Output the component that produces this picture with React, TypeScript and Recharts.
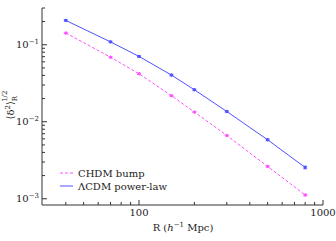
import React from "react";
import { LineChart, Line, XAxis, YAxis, ErrorBar } from "recharts";

const radii = [40, 70, 100, 150, 200, 300, 500, 800];
const lcdm = [0.207, 0.109, 0.0705, 0.0404, 0.026, 0.0136, 0.00583, 0.00255];
const lcdmErr = [0.005, 0.0025, 0.0015, 0.001, 0.0006, 0.0003, 0.00015, 0.0001];
const chdm = [0.142, 0.069, 0.042, 0.0218, 0.0134, 0.00664, 0.00263, 0.00112];
const chdmErr = [0.003, 0.0015, 0.0008, 0.0004, 0.0002, 0.0001, 0.00005, 0.00003];

const xTicks = [40, 50, 60, 70, 80, 90, 100, 200, 300, 400, 500, 600, 700, 800, 900, 1000];
const xMajor = [100, 1000];
const yTicks = [
  0.001, 0.002, 0.003, 0.004, 0.005, 0.006, 0.007, 0.008, 0.009,
  0.01, 0.02, 0.03, 0.04, 0.05, 0.06, 0.07, 0.08, 0.09,
  0.1, 0.2, 0.3,
];
const yMajor: Record<string, string> = { "0.001": "−3", "0.01": "−2", "0.1": "−1" };
const seriesNames = ["CHDM bump", "ΛCDM power-law"];

const data = radii.map((r, i) => ({
  r,
  lcdm: lcdm[i],
  lcdmErr: lcdmErr[i],
  chdm: chdm[i],
  chdmErr: chdmErr[i],
}));

const BLUE = "#5050ff";
const PINK = "#ff50ff";
const FONT = "'DejaVu Serif', serif";
const AX = "#333";

const XTickBottom = (props: any) => {
  const { x, y, payload } = props;
  const major = xMajor.includes(payload.value);
  const len = major ? 5 : 3;
  return (
    <g>
      <line x1={x} y1={y} x2={x} y2={y - len} stroke={AX} strokeWidth={1} />
      {major && (
        <text x={x} y={y + 11} textAnchor="middle" fontSize={10} fontFamily={FONT} fill="#222">
          {payload.value}
        </text>
      )}
    </g>
  );
};

const XTickTop = (props: any) => {
  const { x, y, payload } = props;
  const major = xMajor.includes(payload.value);
  const len = major ? 5 : 3;
  return <line x1={x} y1={y} x2={x} y2={y + len} stroke={AX} strokeWidth={1} />;
};

const YTickLeft = (props: any) => {
  const { x, y, payload } = props;
  const sup = yMajor[String(payload.value)];
  const len = sup ? 5 : 3;
  return (
    <g>
      <line x1={x} y1={y} x2={x + len} y2={y} stroke={AX} strokeWidth={1} />
      {sup && (
        <text x={x - 3} y={y + 3.5} textAnchor="end" fontSize={10} fontFamily={FONT} fill="#222">
          <tspan>10</tspan>
          <tspan dy={-4} fontSize={7}>{sup}</tspan>
        </text>
      )}
    </g>
  );
};

const YTickRight = (props: any) => {
  const { x, y, payload } = props;
  const sup = yMajor[String(payload.value)];
  const len = sup ? 5 : 3;
  return <line x1={x} y1={y} x2={x - len} y2={y} stroke={AX} strokeWidth={1} />;
};

const YLabel = () => (
  <text transform="translate(14,105) rotate(-90)" textAnchor="middle" fontSize={10} fontFamily={FONT} fill="#222">
    <tspan>⟨δ</tspan>
    <tspan dy={-4} fontSize={7}>2</tspan>
    <tspan dy={4}>⟩</tspan>
    <tspan dy={3} fontSize={7}>R</tspan>
    <tspan dx={-6} dy={-10} fontSize={7}>1/2</tspan>
  </text>
);

const XLabel = () => (
  <text x={183} y={231} textAnchor="middle" fontSize={10} fontFamily={FONT} fill="#222">
    <tspan>R (</tspan>
    <tspan fontStyle="italic">h</tspan>
    <tspan dy={-4} fontSize={7}>−1</tspan>
    <tspan dy={4}> Mpc)</tspan>
  </text>
);

export default function App() {
  return (
    <div style={{ position: "absolute", left: 0, top: 0, width: 336, height: 241, background: "#fff" }}>
      <LineChart
        width={336}
        height={241}
        data={data}
        margin={{ top: 8, right: 13, bottom: 0, left: 0 }}
      >
        <XAxis
          xAxisId="b"
          dataKey="r"
          type="number"
          scale="log"
          domain={[29.7, 1000]}
          allowDataOverflow
          ticks={xTicks}
          tick={<XTickBottom />}
          tickLine={false}
          tickSize={0}
          tickMargin={0}
          interval={0}
          height={36}
          stroke={AX}
          label={<XLabel />}
        />
        <XAxis
          xAxisId="t"
          orientation="top"
          dataKey="r"
          type="number"
          scale="log"
          domain={[29.7, 1000]}
          allowDataOverflow
          ticks={xTicks}
          tick={<XTickTop />}
          tickLine={false}
          tickSize={0}
          tickMargin={0}
          interval={0}
          height={0}
          stroke={AX}
        />
        <YAxis
          yAxisId="l"
          type="number"
          scale="log"
          domain={[0.00083, 0.3]}
          allowDataOverflow
          ticks={yTicks}
          tick={<YTickLeft />}
          tickLine={false}
          tickSize={0}
          tickMargin={0}
          interval={0}
          width={42}
          stroke={AX}
          label={<YLabel />}
        />
        <YAxis
          yAxisId="r"
          orientation="right"
          type="number"
          scale="log"
          domain={[0.00083, 0.3]}
          allowDataOverflow
          ticks={yTicks}
          tick={<YTickRight />}
          tickLine={false}
          tickSize={0}
          tickMargin={0}
          interval={0}
          width={0}
          stroke={AX}
        />
        <Line
          xAxisId="b"
          yAxisId="l"
          dataKey="chdm"
          name={seriesNames[0]}
          stroke={PINK}
          strokeWidth={1}
          strokeDasharray="3 2"
          dot={{ r: 1.2, fill: PINK, stroke: PINK }}
          isAnimationActive={false}
        >
          <ErrorBar dataKey="chdmErr" width={2} stroke={PINK} strokeWidth={0.8} isAnimationActive={false} />
        </Line>
        <Line
          xAxisId="b"
          yAxisId="l"
          dataKey="lcdm"
          name={seriesNames[1]}
          stroke={BLUE}
          strokeWidth={1}
          dot={{ r: 1.2, fill: BLUE, stroke: BLUE }}
          isAnimationActive={false}
        >
          <ErrorBar dataKey="lcdmErr" width={2} stroke={BLUE} strokeWidth={0.8} isAnimationActive={false} />
        </Line>
      </LineChart>
      <svg width={120} height={30} style={{ position: "absolute", left: 58, top: 166 }}>
        <line x1={2} y1={7} x2={15} y2={7} stroke={PINK} strokeWidth={1} strokeDasharray="3 2" />
        <text x={20} y={10.5} fontSize={10} fontFamily={FONT} fill="#222">{seriesNames[0]}</text>
        <line x1={2} y1={20} x2={15} y2={20} stroke={BLUE} strokeWidth={1} />
        <text x={20} y={23.5} fontSize={10} fontFamily={FONT} fill="#222">{seriesNames[1]}</text>
      </svg>
    </div>
  );
}
